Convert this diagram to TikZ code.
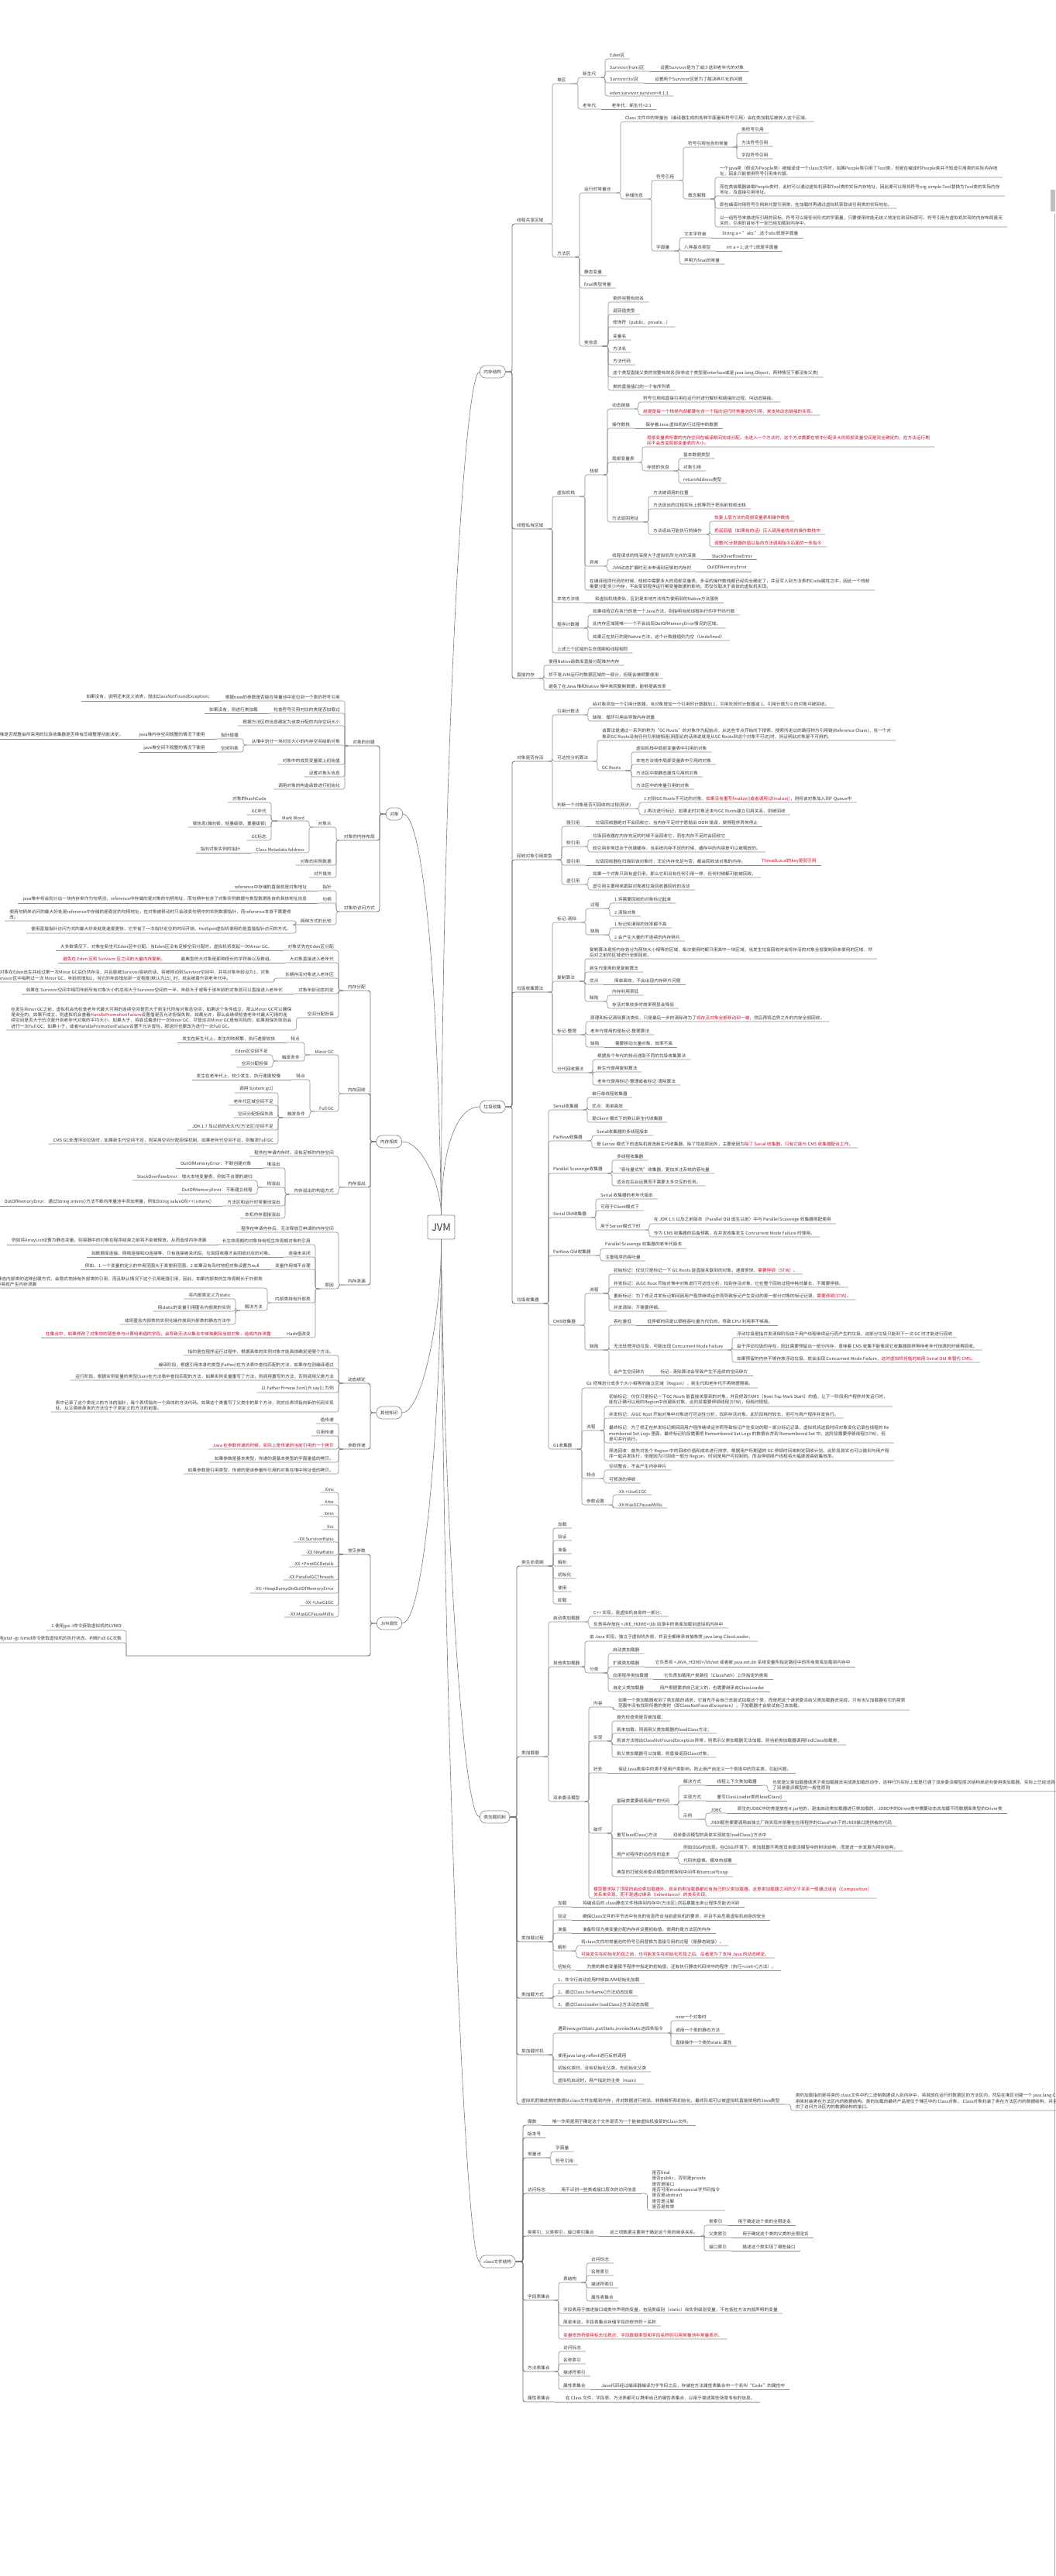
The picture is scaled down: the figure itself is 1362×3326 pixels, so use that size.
\documentclass[tikz,border=0pt]{standalone}
\usepackage{fontspec}
\setmainfont{Noto Sans CJK SC}
\definecolor{ln}{HTML}{8E8E8E}
\definecolor{tx}{HTML}{3A3A3A}
\definecolor{rd}{HTML}{C8102E}
\newcommand\RED[1]{\textcolor{rd}{#1}}
\tikzset{
 it/.style={inner xsep=6pt, inner ysep=1.6pt, font=\fontsize{5.7}{7.4}\selectfont, text=tx, align=left},
 cn/.style={draw=ln, line width=0.6pt, rounded corners=3pt},
 cn1/.style={draw=ln!80!black, line width=0.9pt, rounded corners=3pt},
 pill/.style={draw=ln, line width=0.7pt, rounded corners=7.5pt, minimum height=16pt, inner xsep=5pt, font=\fontsize{5.7}{7}\selectfont, text=tx, fill=white},
 cv/.style={draw=ln!85!black, line width=0.6pt}
}
% right side: name, parent, x, y, text
\newcommand\MR[5]{\node[it,anchor=south west] (#1) at (#3,#4) {#5};\draw[cn] (#2.south east) -| (#1.south west) -- (#1.south east);}
\newcommand\MRS[3]{\node[it,anchor=south west] (#1) at ([xshift=8pt]#2.south east) {#3};\draw[cn] (#2.south east) -- (#1.south east);}
\newcommand\MRSD[4]{\node[it,anchor=south west] (#1) at ([xshift=8pt,yshift=-#3pt]#2.south east) {#4};\draw[cn] (#2.south east) -| (#1.south west) -- (#1.south east);}
\newcommand\MRP[5]{\node[it,anchor=south west] (#1) at (#3,#4) {#5};\draw[cn1] (#2.east) -| (#1.south west) -- (#1.south east);}
% left side
\newcommand\ML[5]{\node[it,anchor=south east] (#1) at (#3,#4) {#5};\draw[cn] (#2.south west) -| (#1.south east) -- (#1.south west);}
\newcommand\MLS[3]{\node[it,anchor=south east] (#1) at ([xshift=-8pt]#2.south west) {#3};\draw[cn] (#2.south west) -- (#1.south west);}
\newcommand\MLSD[4]{\node[it,anchor=south east] (#1) at ([xshift=-8pt,yshift=-#3pt]#2.south west) {#4};\draw[cn] (#2.south west) -| (#1.south east) -- (#1.south west);}
\newcommand\MLP[5]{\node[it,anchor=south east] (#1) at (#3,#4) {#5};\draw[cn1] (#2.west) -| (#1.south east) -- (#1.south west);}
\begin{document}
\begin{tikzpicture}[x=1pt,y=-1pt]
\useasboundingbox (0,0) rectangle (1362,3326);
\fill[white] (0,0) rectangle (1362,3326);
\fill[gray!50] (1356,245) rectangle (1362,273);
\draw[gray!65, line width=0.8pt] (1361.6,276) -- (1361.6,3326);

% ---------- centre ----------
\node[draw=ln, line width=0.8pt, rounded corners=2pt, minimum width=35pt, minimum height=31pt, font=\fontsize{13}{13}\selectfont, text=tx, fill=white] (J) at (569.5,1584.5) {JVM};
\node[pill,anchor=west] (P1) at (619,480) {内存结构};
\node[pill,anchor=west] (P2) at (619,1429) {垃圾收集};
\node[pill,anchor=west] (P3) at (619,2346) {类加载机制};
\node[pill,anchor=west] (P4) at (619,2920) {class文件结构};
\node[pill,anchor=east] (Q1) at (520,1051) {对象};
\node[pill,anchor=east] (Q2) at (519,1474) {内存相关};
\node[pill,anchor=east] (Q3) at (519,1824) {其他知识};
\node[pill,anchor=east] (Q4) at (519,2096) {JVM调优};
\draw[cv] (J.north) .. controls (570,1000) and (598,480) .. (P1.west);
\draw[cv] (J.north) .. controls (570,1480) and (590,1429) .. (P2.west);
\draw[cv] (J.south) .. controls (572,1900) and (595,2346) .. (P3.west);
\draw[cv] (J.south) .. controls (572,2200) and (600,2920) .. (P4.west);
\draw[cv] (J.north) .. controls (565,1250) and (545,1051) .. (Q1.east);
\draw[cv] (J.north) .. controls (569,1530) and (545,1474) .. (Q2.east);
\draw[cv] (J.south) .. controls (570,1700) and (545,1824) .. (Q3.east);
\draw[cv] (J.south) .. controls (570,1800) and (550,2096) .. (Q4.east);

% ---------- 内存结构 ----------
\MRP{s1}{P1}{661}{289}{线程共享区域}
\MR{s11}{s1}{713}{108}{堆区}
\MR{s111}{s11}{746}{100}{新生代}
\MR{s1111}{s111}{781}{76}{Eden区}
\MR{s1112}{s111}{781}{92}{Survivor(from)区}
\MRS{s11121}{s1112}{设置Survivor是为了减少送到老年代的对象}
\MR{s1113}{s111}{781}{107}{Survivor(to)区}
\MRS{s11131}{s1113}{设置两个Survivor区是为了解决碎片化的问题}
\MR{s1114}{s111}{781}{124}{eden:survivor:survivor=8:1:1}
\MR{s112}{s11}{746}{141}{老年代}
\MRS{s1121}{s112}{老年代：新生代=2:1}
\MR{s12}{s1}{713}{332}{方法区}
\MR{s121}{s12}{748}{249}{运行时常量池}
\MR{s1211}{s121}{801}{157}{Class 文件中的常量池（编译器生成的各种字面量和符号引用）会在类加载后被放入这个区域。}
\MR{s1212}{s121}{801}{257}{存储信息}
\MR{sA}{s1212}{841}{233}{符号引用}
\MR{sA1}{sA}{882}{190}{符号引用包含的常量}
\MR{sA11}{sA1}{951}{172}{类符号引用}
\MR{sA12}{sA1}{951}{189}{方法符号引用}
\MR{sA13}{sA1}{951}{205}{字段符号引用}
\MR{sA2}{sA}{882}{257}{概念解释}
\MR{sA21}{sA2}{923}{229}{一个java类（假设为People类）被编译成一个class文件时，如果People类引用了Tool类，但是在编译时People类并不知道引用类的实际内存地\\址，因此只能使用符号引用来代替。}
\MR{sA22}{sA2}{923}{253}{而在类装载器装载People类时，此时可以通过虚拟机获取Tool类的实际内存地址，因此便可以既将符号org.simple.Tool替换为Tool类的实际内存\\地址，及直接引用地址。}
\MR{sA23}{sA2}{923}{269}{即在编译时用符号引用来代替引用类，在加载时再通过虚拟机获取该引用类的实际地址。}
\MR{sA24}{sA2}{923}{293}{以一组符号来描述所引用的目标，符号可以是任何形式的字面量，只要使用时能无歧义地定位到目标即可。符号引用与虚拟机实现的内存布局是无\\关的，引用的目标不一定已经加载到内存中。}
\MR{sB}{s1212}{841}{324}{字面量}
\MR{sB1}{sB}{877}{307}{文本字符串}
\MRS{sB11}{sB1}{String a = "abc",这个abc就是字面量}
\MR{sB2}{sB}{877}{324}{八种基本类型}
\MRS{sB21}{sB2}{int a = 1; 这个1就是字面量}
\MR{sB3}{sB}{877}{341}{声明为final的常量}
\MR{s122}{s12}{748}{356}{静态变量}
\MR{s123}{s12}{748}{372}{final类型常量}
\MR{s124}{s12}{748}{447}{类信息}
\MR{s1241}{s124}{785}{390}{类的完整有效名}
\MR{s1242}{s124}{785}{406}{返回值类型}
\MR{s1243}{s124}{785}{422}{修饰符（public，private...）}
\MR{s1244}{s124}{785}{439}{变量名}
\MR{s1245}{s124}{785}{455}{方法名}
\MR{s1246}{s124}{785}{471}{方法代码}
\MR{s1247}{s124}{785}{487}{这个类型直接父类的完整有效名(除非这个类型是interface或是 java.lang.Object，两种情况下都没有父类)}
\MR{s1248}{s124}{785}{504}{类的直接接口的一个有序列表}

\MRP{s2}{P1}{661}{683}{线程私有区域}
\MR{s21}{s2}{713}{641}{虚拟机栈}
\MR{s211}{s21}{755}{613}{栈帧}
\MR{s2111}{s211}{784}{528}{动态链接}
\MR{s21111}{s2111}{824}{519}{符号引用和直接引用在运行时进行解析和链接的过程，叫动态链接。}
\MR{s21112}{s2111}{824}{536}{\RED{前提是每一个栈帧内部都要包含一个指向运行时常量池的引用，来支持动态链接的实现。}}
\MR{s2112}{s211}{784}{553}{操作数栈}
\MRS{s21121}{s2112}{保存着Java 虚拟机执行过程中的数据}
\MR{s2113}{s211}{784}{597}{局部变量表}
\MR{s21131}{s2113}{829}{577}{\RED{局部变量表所需的内存空间在编译期间完成分配，当进入一个方法时，这个方法需要在帧中分配多大的局部变量空间是完全确定的，在方法运行期}\\\RED{间不会改变局部变量表的大小。}}
\MR{s21132}{s2113}{829}{608}{存放的信息}
\MR{s211321}{s21132}{876}{592}{基本数据类型}
\MR{s211322}{s21132}{876}{608}{对象引用}
\MR{s211323}{s21132}{876}{624}{returnAddress类型}
\MR{s2114}{s211}{784}{674}{方法返回地址}
\MR{s21141}{s2114}{837}{641}{方法被调用的位置}
\MR{s21142}{s2114}{837}{657}{方法退出的过程实际上就等同于把当前栈帧出栈}
\MR{s21143}{s2114}{837}{690}{方法退出可能执行的操作}
\MR{s211431}{s21143}{916}{673}{\RED{恢复上层方法的局部变量表和操作数栈}}
\MR{s211432}{s21143}{916}{690}{\RED{把返回值（如果有的话）压入调用者栈帧的操作数栈中}}
\MR{s211433}{s21143}{916}{706}{\RED{调整PC计数器的值以指向方法调用指令后面的一条指令}}
\MR{s212}{s21}{755}{731}{异常}
\MR{s2121}{s212}{784}{722}{线程请求的栈深度大于虚拟机所允许的深度}
\MRS{s21211}{s2121}{StackOverflowError}
\MR{s2122}{s212}{784}{738}{JVM动态扩展时无法申请到足够的内存时}
\MRS{s21221}{s2122}{OutOfMemoryError}
\MR{s213}{s21}{755}{762}{在编译程序代码的时候，栈帧中需要多大的局部变量表，多深的操作数栈都已经完全确定了，并且写入到方法表的Code属性之中，因此一个栈帧\\需要分配多少内存，不会受到程序运行期变量数据的影响，而仅仅取决于具体的虚拟机实现。}
\MR{s22}{s2}{713}{778}{本地方法栈}
\MRS{s221}{s22}{和虚拟机栈类似，区别是本地方法栈为使用到的Native方法服务}
\MR{s23}{s2}{713}{811}{程序计数器}
\MR{s231}{s23}{759}{794}{如果线程正在执行的是一个Java方法，则指明当前线程执行的字节码行数}
\MR{s232}{s23}{759}{811}{此内存区域是唯一一个不会出现OutOfMemoryError情况的区域。}
\MR{s233}{s23}{759}{827}{如果正在执行的是Natvie方法，这个计数器值则为空（Undefined）}
\MR{s24}{s2}{713}{843}{上述三个区域的生命周期和线程相同}
\MRP{s3}{P1}{661}{876}{直接内存}
\MR{s31}{s3}{702}{859}{使用Native函数库直接分配堆外内存}
\MR{s32}{s3}{702}{876}{并不是JVM运行时数据区域的一部分，但是会被频繁使用}
\MR{s33}{s3}{702}{891}{避免了在Java 堆和Native 堆中来回复制数据，能够提高效率}

% ---------- 垃圾收集 ----------
\MRP{g1}{P2}{661}{983}{对象是否存活}
\MR{g11}{g1}{713}{923}{引用计数法}
\MR{g111}{g11}{759}{914}{给对象添加一个引用计数器，当对象增加一个引用时计数器加 1，引用失效时计数器减 1。引用计数为 0 的对象可被回收。}
\MR{g112}{g11}{759}{931}{缺陷：循环引用会导致内存泄露}
\MR{g12}{g1}{713}{983}{可达性分析算法}
\MR{g121}{g12}{771}{956}{该算法是通过一系列的称为“GC Roots”的对象作为起始点，从这些节点开始向下搜索，搜索所走过的路径称为引用链(Reference Chain)，当一个对\\象到GC Roots没有任何引用链相连(用图论的话来说就是从GC Roots到这个对象不可达)时，则证明此对象是不可用的。}
\MR{g122}{g12}{771}{995}{GC Roots}
\MR{g1221}{g122}{815}{971}{虚拟机栈中局部变量表中引用的对象}
\MR{g1222}{g122}{815}{987}{本地方法栈中局部变量表中引用的对象}
\MR{g1223}{g122}{815}{1003}{方法区中类静态属性引用的对象}
\MR{g1224}{g122}{815}{1019}{方法区中的常量引用的对象}
\MR{g13}{g1}{713}{1044}{判断一个对象是否可回收的过程(两步)}
\MR{g131}{g13}{825}{1036}{1.对到GC Roots不可达的对象，\RED{如果没有重写finalize()或者调用过finalize()}，则将该对象加入到F-Queue中}
\MR{g132}{g13}{825}{1052}{2.再次进行标记，如果此时对象还未与GC Roots建立引用关系，则被回收}
\MRP{g2}{P2}{661}{1110}{回收对象引用类型}
\MR{g21}{g2}{725}{1067}{强引用}
\MRS{g211}{g21}{垃圾回收器绝对不会回收它，当内存不足时宁愿抛出 OOM 错误，使得程序异常停止}
\MR{g22}{g2}{725}{1093}{软引用}
\MR{g221}{g22}{759}{1084}{垃圾回收器在内存充足的时候不会回收它，而在内存不足时会回收它}
\MR{g222}{g22}{759}{1100}{软引用非常适合于创建缓存。当系统内存不足的时候，缓存中的内容是可以被释放的。}
\MR{g23}{g2}{725}{1117}{弱引用}
\MRS{g231}{g23}{垃圾回收器在扫描到该对象时，无论内存充足与否，都会回收该对象的内存。}
\MRS{g2311}{g231}{\RED{ThreadLocal的key是弱引用}}
\MR{g24}{g2}{725}{1142}{虚引用}
\MR{g241}{g24}{759}{1133}{如果一个对象只具有虚引用，那么它和没有任何引用一样，任何时候都可能被回收。}
\MR{g242}{g24}{759}{1149}{虚引用主要用来跟踪对象被垃圾回收器回收的活动}
\MRP{g3}{P2}{661}{1281}{垃圾收集算法}
\MR{g31}{g3}{713}{1191}{标记-清除}
\MR{g311}{g31}{756}{1173}{过程}
\MR{g3111}{g311}{787}{1166}{1.将需要回收的对象标记起来}
\MR{g3112}{g311}{787}{1183}{2.清除对象}
\MR{g312}{g31}{756}{1207}{缺陷}
\MR{g3121}{g312}{787}{1198}{1.标记和清除的效率都不高}
\MR{g3122}{g312}{787}{1215}{2.会产生大量的不连续的内存碎片}
\MR{g32}{g3}{713}{1267}{复制算法}
\MR{g321}{g32}{755}{1238}{复制算法是将内存划分为两块大小相等的区域，每次使用时都只用其中一块区域，当发生垃圾回收时会将存活的对象全部复制到未使用的区域，然\\后对之前的区域进行全部回收。}
\MR{g322}{g32}{755}{1255}{新生代使用的是复制算法}
\MR{g323}{g32}{755}{1271}{优点}
\MRS{g3231}{g323}{简单高效，不会出现内存碎片问题}
\MR{g324}{g32}{755}{1293}{缺陷}
\MR{g3241}{g324}{784}{1285}{内存利用率低}
\MR{g3242}{g324}{784}{1302}{存活对象较多时效率明显会降低}
\MR{g33}{g3}{713}{1336}{标记-整理}
\MR{g331}{g33}{756}{1319}{原理和标记清除算法类似，只是最后一步的清除改为了\RED{将存活对象全部移动到一端}，然后再将边界之外的内存全部回收。}
\MR{g332}{g33}{756}{1336}{老年代使用的是标记-整理算法}
\MR{g333}{g33}{756}{1352}{缺陷}
\MRS{g3331}{g333}{需要移动大量对象，效率不高}
\MR{g34}{g3}{713}{1385}{分代回收算法}
\MR{g341}{g34}{765}{1368}{根据各个年代的特点选取不同的垃圾收集算法}
\MR{g342}{g34}{765}{1384}{新生代使用复制算法}
\MR{g343}{g34}{765}{1401}{老年代使用标记-整理或者标记-清除算法}
\MRP{g4}{P2}{661}{1683}{垃圾收集器}
\MR{g41}{g4}{708}{1433}{Serial收集器}
\MR{g411}{g41}{758}{1417}{串行单线程收集器}
\MR{g412}{g41}{758}{1433}{优点：简单高效}
\MR{g413}{g41}{758}{1449}{是Client 模式下的默认新生代收集器}
\MR{g42}{g4}{708}{1473}{ParNew收集器}
\MR{g421}{g42}{764}{1466}{Serial收集器的多线程版本}
\MR{g422}{g42}{764}{1482}{是 Server 模式下的虚拟机首选新生代收集器，除了性能原因外，主要是因为\RED{除了 Serial 收集器，只有它能与 CMS 收集器配合工作。}}
\MR{g43}{g4}{708}{1515}{Parallel Scavenge收集器}
\MR{g431}{g43}{790}{1498}{多线程收集器}
\MR{g432}{g43}{790}{1515}{“吞吐量优先”收集器，更加关注系统的吞吐量}
\MR{g433}{g43}{790}{1531}{适合在后台运算而不需要太多交互的任务。}
\MR{g44}{g4}{708}{1572}{Serial Old收集器}
\MR{g441}{g44}{769}{1548}{Serial 收集器的老年代版本}
\MR{g442}{g44}{769}{1563}{可用于Client模式下}
\MR{g443}{g44}{769}{1588}{用于Server模式下时}
\MR{g4431}{g443}{838}{1580}{在 JDK 1.5 以及之前版本（Parallel Old 诞生以前）中与 Parallel Scavenge 收集器搭配使用}
\MR{g4432}{g443}{838}{1597}{作为 CMS 收集器的后备预案，在并发收集发生 Concurrent Mode Failure 时使用。}
\MR{g45}{g4}{708}{1621}{ParNew Old收集器}
\MR{g451}{g45}{775}{1612}{Parallel Scavenge 收集器的老年代版本}
\MR{g452}{g45}{775}{1628}{注重程序的吞吐量}
\MR{g46}{g4}{708}{1711}{CMS收集器}
\MR{g461}{g46}{755}{1670}{流程}
\MR{g4611}{g461}{786}{1645}{初始标记：仅仅只是标记一下 GC Roots 能直接关联到的对象，速度很快，\RED{需要停顿（STW）}。}
\MR{g4612}{g461}{786}{1662}{并发标记：从GC Root 开始对堆中对象进行可达性分析，找到存活对象，它在整个回收过程中耗时最长，不需要停顿。}
\MR{g4613}{g461}{786}{1678}{重新标记：为了修正并发标记期间因用户程序继续运作而导致标记产生变动的那一部分对象的标记记录，\RED{需要停顿(STW)}。}
\MR{g4614}{g461}{786}{1693}{并发清除：不需要停顿。}
\MR{g462}{g46}{755}{1743}{缺陷}
\MR{g4621}{g462}{786}{1711}{吞吐量低}
\MRS{g46211}{g4621}{低停顿时间是以牺牲吞吐量为代价的，导致 CPU 利用率不够高。}
\MR{g4622}{g462}{786}{1743}{无法处理浮动垃圾，可能出现 Concurrent Mode Failure}
\MR{g46221}{g4622}{945}{1727}{浮动垃圾是指并发清除阶段由于用户线程继续运行而产生的垃圾，这部分垃圾只能到下一次 GC 时才能进行回收}
\MR{g46222}{g4622}{945}{1743}{由于浮动垃圾的存在，因此需要预留出一部分内存，意味着 CMS 收集不能像其它收集器那样等待老年代快满的时候再回收。}
\MR{g46223}{g4622}{945}{1759}{如果预留的内存不够存放浮动垃圾，就会出现 Concurrent Mode Failure，\RED{这时虚拟机将临时启用 Serial Old 来替代 CMS。}}
\MR{g4623}{g462}{786}{1776}{会产生空间碎片}
\MRS{g46231}{g4623}{标记 - 清除算法会导致产生不连续的空间碎片}
\MR{g47}{g4}{708}{1871}{G1收集器}
\MR{g471}{g47}{751}{1792}{G1 把堆划分成多个大小相等的独立区域（Region），新生代和老年代不再物理隔离。}
\MR{g472}{g47}{751}{1847}{流程}
\MR{g4721}{g472}{780}{1816}{初始标记：仅仅只是标记一下GC Roots 能直接关联到的对象，并且修改TAMS（Next Top Mark Start）的值，让下一阶段用户程序并发运行时，\\能在正确可以用的Region中创建新对象，此阶段需要停顿线程(STW)，但耗时很短。}
\MR{g4722}{g472}{780}{1831}{并发标记：从GC Root 开始对堆中对象进行可达性分析，找到存活对象，此阶段耗时较长，但可与用户程序并发执行。}
\MR{g4723}{g472}{780}{1863}{最终标记：为了修正在并发标记期间因用户程序继续运作而导致标记产生变动的那一部分标记记录，虚拟机将这段时间对象变化记录在线程的 Re\\membered Set Logs 里面，最终标记阶段需要把 Remembered Set Logs 的数据合并到 Remembered Set 中。这阶段需要停顿线程(STW)，但\\是可并行执行。}
\MR{g4724}{g472}{780}{1886}{筛选回收：首先对各个 Region 中的回收价值和成本进行排序，根据用户所期望的 GC 停顿时间来制定回收计划。此阶段其实也可以做到与用户程\\序一起并发执行，但是因为只回收一部分 Region，时间是用户可控制的，而且停顿用户线程将大幅度提高收集效率。}
\MR{g473}{g47}{751}{1909}{特点}
\MR{g4731}{g473}{780}{1898}{空间整合，不会产生内存碎片}
\MR{g4732}{g473}{780}{1915}{可预测的停顿}
\MR{g474}{g47}{751}{1943}{参数设置}
\MR{g4741}{g474}{791}{1930}{-XX:+UseG1GC}
\MR{g4742}{g474}{791}{1947}{-XX:MaxGCPauseMillis}

% ---------- 类加载机制 ----------
\MRP{c1}{P3}{667}{2022}{类生命周期}
\MR{c11}{c1}{714}{1973}{加载}
\MR{c12}{c1}{714}{1989}{验证}
\MR{c13}{c1}{714}{2006}{准备}
\MR{c14}{c1}{714}{2022}{解析}
\MR{c15}{c1}{714}{2038}{初始化}
\MR{c16}{c1}{714}{2055}{使用}
\MR{c17}{c1}{714}{2071}{卸载}
\MRP{c2}{P3}{667}{2268}{类加载器}
\MR{c21}{c2}{708}{2094}{启动类加载器}
\MR{c211}{c21}{760}{2087}{C++ 实现，是虚拟机自身的一部分；}
\MR{c212}{c21}{760}{2102}{负责将存放在 <JRE\_HOME>\textbackslash lib 目录中的类库加载到虚拟机内存中}
\MR{c22}{c2}{708}{2152}{其他类加载器}
\MR{c221}{c22}{755}{2119}{由 Java 实现，独立于虚拟机外部，并且全都继承自抽象类 java.lang.ClassLoader。}
\MR{c222}{c22}{755}{2160}{分类}
\MR{c2221}{c222}{785}{2135}{启动类加载器}
\MR{c2222}{c222}{785}{2152}{扩展类加载器}
\MRS{c22221}{c2222}{它负责将 <JAVA\_HOME>/lib/ext 或者被 java.ext.dir 系统变量所指定路径中的所有类库加载到内存中}
\MR{c2223}{c222}{785}{2168}{应用程序类加载器}
\MRS{c22231}{c2223}{它负责加载用户类路径（ClassPath）上所指定的类库}
\MR{c2224}{c222}{785}{2184}{自定义类加载器}
\MRS{c22241}{c2224}{用户根据需求自己定义的，也需要继承自ClassLoader.}
\MR{c23}{c2}{708}{2326}{双亲委派模型}
\MR{c231}{c23}{760}{2204}{内容}
\MRSD{c2311}{c231}{4}{如果一个类加载器收到了类加载的请求，它首先不会自己去尝试加载这个类，而是把这个请求委派给父类加载器去完成，只有当父加载器在它的搜索\\范围中没有找到所需的类时（即ClassNotFoundException），子加载器才会尝试自己去加载。}
\MR{c232}{c23}{760}{2248}{实现}
\MR{c2321}{c232}{790}{2222}{首先检查类是否被加载；}
\MR{c2322}{c232}{790}{2238}{若未加载，则调用父类加载器的loadClass方法；}
\MR{c2323}{c232}{790}{2253}{若该方法抛出ClassNotFoundException异常，则表示父类加载器无法加载，则当前类加载器调用findClass加载类；}
\MR{c2324}{c232}{790}{2269}{若父类加载器可以加载，则直接返回Class对象；}
\MR{c233}{c23}{760}{2289}{好处}
\MRS{c2331}{c233}{保证Java类库中的类不受用户类影响，防止用户自定义一个类库中的同名类，引起问题。}
\MR{c234}{c23}{760}{2367}{破坏}
\MR{c2341}{c234}{790}{2330}{基础类需要调用用户的代码}
\MR{cA1}{c2341}{876}{2305}{解决方式}
\MRS{cA11}{cA1}{线程上下文类加载器}
\MRSD{cA111}{cA11}{8}{也就是父类加载器请求子类加载器去完成类加载的动作，这种行为实际上就是打通了双亲委派模型层次结构来逆向使用类加载器，实际上已经违背\\了双亲委派模型的一般性原则}
\MR{cA2}{c2341}{876}{2325}{实现方式}
\MRS{cA21}{cA2}{重写ClassLoader类的loadClass()}
\MR{cA3}{c2341}{876}{2349}{示例}
\MR{cA31}{cA3}{911}{2341}{JDBC}
\MRS{cA311}{cA31}{原生的JDBC中的类是放在rt.jar包的，是由启动类加载器进行类加载的，JDBC中的Driver类中需要动态去加载不同数据库类型的Driver类}
\MR{cA32}{cA3}{911}{2358}{JNDI服务需要调用由独立厂商实现并部署在应用程序的ClassPath下的JNDI接口提供者的代码}
\MR{c2342}{c234}{790}{2374}{重写loadClass()方法}
\MRS{c23421}{c2342}{双亲委派模型的具体实现就在loadClass()方法中}
\MR{c2343}{c234}{790}{2399}{用户对程序的动态性的追求}
\MR{cB1}{c2343}{876}{2390}{例如OSGi的出现。在OSGi环境下，类加载器不再是双亲委派模型中的树状结构，而是进一步发展为网状结构。}
\MR{cB2}{c2343}{876}{2407}{代码热替换、模块热部署}
\MR{c2344}{c234}{790}{2423}{典型的打破双亲委派模型的框架和中间件有tomcat与osgi}
\MR{c235}{c23}{760}{2451}{\RED{模型要求除了顶层的启动类加载器外，其余的类加载器都应有自己的父类加载器。这里类加载器之间的父子关系一般通过组合（Composition）}\\\RED{关系来实现，而不是通过继承（Inheritance）的关系实现。}}
\MRP{c3}{P3}{667}{2507}{类加载过程}
\MR{c31}{c3}{714}{2462}{加载}
\MRS{c311}{c31}{将编译后的.class静态文件转换到内存中(方法区),然后暴露出来让程序员能访问到}
\MR{c32}{c3}{714}{2479}{验证}
\MRS{c321}{c32}{确保Class文件的字节流中包含的信息符合当前虚拟机的要求，并且不会危害虚拟机自身的安全}
\MR{c33}{c3}{714}{2496}{准备}
\MRS{c331}{c33}{准备阶段为类变量分配内存并设置初始值，使用的是方法区的内存}
\MR{c34}{c3}{714}{2519}{解析}
\MR{c341}{c34}{744}{2512}{将class文件的常量池的符号引用替换为直接引用的过程（是静态链接）。}
\MR{c342}{c34}{744}{2528}{\RED{可能发生在初始化阶段之前，也可能发生在初始化阶段之后，后者是为了支持 Java 的动态绑定。}}
\MR{c35}{c3}{714}{2544}{初始化}
\MRS{c351}{c35}{为类的静态变量赋予程序中指定的初始值，还有执行静态代码块中的程序（执行<cinit>()方法）。}
\MRP{c4}{P3}{667}{2580}{类加载方式}
\MR{c41}{c4}{714}{2561}{1、命令行启动应用时候由JVM初始化加载}
\MR{c42}{c4}{714}{2577}{2、通过Class.forName()方法动态加载}
\MR{c43}{c4}{714}{2593}{3、通过ClassLoader.loadClass()方法动态加载}
\MRP{c5}{P3}{667}{2653}{类加载时机}
\MR{c51}{c5}{714}{2625}{遇到new,getStatic,putStatic,invokeStatic这四条指令}
\MR{c511}{c51}{866}{2609}{new一个对象时}
\MR{c512}{c51}{866}{2626}{调用一个类的静态方法}
\MR{c513}{c51}{866}{2642}{直接操作一个类的static 属性}
\MR{c52}{c5}{714}{2660}{使用java.lang.reflect进行反射调用}
\MR{c53}{c5}{714}{2675}{初始化类时，没有初始化父类，先初始化父类}
\MR{c54}{c5}{714}{2691}{虚拟机启动时，用户指定的主类（main）}
\MRP{c6}{P3}{667}{2717}{虚拟机把描述类的数据从class文件加载到内存，并对数据进行校验、转换解析和初始化，最终形成可以被虚拟机直接使用的Java类型}
\MRSD{c61}{c6}{8}{类的加载指的是将类的.class文件中的二进制数据读入到内存中，将其放在运行时数据区的方法区内，然后在堆区创建一个 java.lang.Class对象，\\用来封装类在方法区内的数据结构。类的加载的最终产品是位于堆区中的 Class对象， Class对象封装了类在方法区内的数据结构，并且向Java程序员提\\供了访问方法区内的数据结构的接口。}

% ---------- class文件结构 ----------
\MRP{f1}{P4}{675}{2744}{魔数}
\MRS{f11}{f1}{唯一作用是用于确定这个文件是否为一个能被虚拟机接受的Class文件。}
\MRP{f2}{P4}{675}{2760}{版本号}
\MRP{f3}{P4}{675}{2786}{常量池}
\MR{f31}{f3}{711}{2778}{字面量}
\MR{f32}{f3}{711}{2795}{符号引用}
\MRP{f4}{P4}{675}{2832}{访问标志}
\MRS{f41}{f4}{用于识别一些类或接口层次的访问信息}
\MRSD{f411}{f41}{22}{是否final\\是否public，否则是private\\是否是接口\\是否可用invokespecial字节码指令\\是否是abstract\\是否是注解\\是否是枚举}
\MRP{f5}{P4}{675}{2887}{类索引，父类索引，接口索引集合}
\MRS{f51}{f5}{这三项数据主要用于确定这个类的继承关系。}
\MR{f511}{f51}{909}{2873}{类索引}
\MRS{f5111}{f511}{用于确定这个类的全限定名}
\MR{f512}{f51}{909}{2889}{父类索引}
\MRS{f5121}{f512}{用于确定这个类的父类的全限定名}
\MR{f513}{f51}{909}{2906}{接口索引}
\MRS{f5131}{f513}{描述这个类实现了哪些接口}
\MRP{f6}{P4}{675}{2970}{字段表集合}
\MR{f61}{f6}{721}{2947}{表结构}
\MR{f611}{f61}{757}{2922}{访问标志}
\MR{f612}{f61}{757}{2938}{名称索引}
\MR{f613}{f61}{757}{2954}{描述符索引}
\MR{f614}{f61}{757}{2971}{属性表集合}
\MR{f62}{f6}{721}{2987}{字段表用于描述接口或类中声明的变量，包括类级别（static）和实例级别变量，不包括在方法内部声明的变量}
\MR{f63}{f6}{721}{3003}{简单来说，字段表集合存储字段的修饰符 + 名称}
\MR{f64}{f6}{721}{3020}{\RED{变量修饰符使用标志位表示，字段数据类型和字段名称则引用常量池中常量表示。}}
\MRP{f7}{P4}{675}{3062}{方法表集合}
\MR{f71}{f7}{721}{3036}{访问标志}
\MR{f72}{f7}{721}{3052}{名称索引}
\MR{f73}{f7}{721}{3068}{描述符索引}
\MR{f74}{f7}{721}{3085}{属性表集合}
\MRS{f741}{f74}{Java代码经过编译器编译为字节码之后，存储在方法属性表集合中一个名叫“Code”的属性中}
\MRP{f8}{P4}{675}{3101}{属性表集合}
\MRS{f81}{f8}{在 Class 文件、字段表、方法表都可以携带自己的属性表集合，以用于描述某些场景专有的信息。}

% ---------- 对象 ----------
\MLP{o1}{Q1}{490}{963}{对象的创建}
\ML{o11}{o1}{445}{905}{根据new的参数是否能在常量池中定位到一个类的符号引用}
\MLS{o111}{o11}{如果没有，说明还未定义该类，抛出ClassNotFoundException;}
\ML{o12}{o1}{445}{921}{检查符号引用对应的类是否加载过}
\MLS{o121}{o12}{如果没有，则进行类加载}
\ML{o13}{o1}{445}{937}{根据方法区的信息确定为该类分配的内存空间大小}
\ML{o14}{o1}{445}{962}{从堆中划分一块对应大小的内存空间给新对象}
\ML{o141}{o14}{314}{954}{指针碰撞}
\MLS{o1411}{o141}{java堆内存空间规整的情况下使用}
\MLS{o14111}{o1411}{java堆是否规整由所采用的垃圾收集器是否带有压缩整理功能决定。}
\ML{o142}{o14}{314}{971}{空闲列表}
\MLS{o1421}{o142}{java堆空间不规整的情况下使用}
\ML{o15}{o1}{445}{987}{对象中的成员变量赋上初始值}
\ML{o16}{o1}{445}{1003}{设置对象头信息}
\ML{o17}{o1}{445}{1019}{调用对象的构造函数进行初始化}
\MLP{o2}{Q1}{490}{1085}{对象的内存布局}
\ML{o21}{o2}{434}{1068}{对象头}
\ML{o211}{o21}{399}{1060}{Mark Word}
\ML{o2111}{o211}{350}{1036}{对象的hashCode}
\ML{o2112}{o211}{350}{1052}{GC年代}
\ML{o2113}{o211}{350}{1068}{锁信息(偏向锁，轻量级锁，重量级锁)}
\ML{o2114}{o211}{350}{1085}{GC标志}
\ML{o212}{o21}{399}{1101}{Class Metadata Address}
\MLS{o2121}{o212}{指向对象实例的指针}
\ML{o22}{o2}{434}{1117}{对象的实例数据}
\ML{o23}{o2}{434}{1133}{对齐填充}
\MLP{o3}{Q1}{490}{1177}{对象的访问方式}
\ML{o31}{o3}{434}{1150}{指针}
\MLS{o311}{o31}{reference中存储的直接就是对象地址}
\ML{o32}{o3}{434}{1166}{句柄}
\MLS{o321}{o32}{java堆中将会划分出一块内存来作为句柄池，reference中存储的是对象的句柄地址，而句柄中包含了对象实例数据与类型数据各自的具体地址信息}
\ML{o33}{o3}{434}{1194}{两种方式的比较}
\ML{o331}{o33}{382}{1189}{使用句柄来访问的最大好处是reference中存储的是稳定的句柄地址，在对象被移动时只会改变句柄中的实例数据指针，而reference本身不需要修\\改。}
\ML{o332}{o33}{382}{1205}{使用直接指针访问方式的最大好处就是速度更快，它节省了一次指针定位的时间开销，HotSpot虚拟机使用的是直接指针访问的方式。}

% ---------- 内存相关 ----------
\MLP{m1}{Q2}{478}{1279}{内存分配}
\ML{m11}{m1}{437}{1227}{对象优先在Eden区分配}
\MLS{m111}{m11}{大多数情况下，对象在新生代Eden区中分配。当Eden区没有足够空间分配时，虚拟机将发起一次Minor GC。}
\ML{m12}{m1}{437}{1243}{大对象直接进入老年代}
\MLS{m121}{m12}{最典型的大对象是那种很长的字符串以及数组。}
\MLS{m1211}{m121}{\RED{避免在 Eden 区和 Survivor 区之间的大量内存复制。}}
\ML{m13}{m1}{437}{1263}{长期存活对象进入老年区}
\MLSD{m131}{m13}{5}{如果对象在Eden出生并经过第一次Minor GC后仍然存活，并且能被Survivor容纳的话，将被移动到Survivor空间中，并将对象年龄设为1，对象\\在Survivor区中每熬过一次 Minor GC，年龄就增加1，当它的年龄增加到一定程度(默认为15)\_时，就会被晋升到老年代中。}
\ML{m14}{m1}{437}{1283}{对象年龄动态判定}
\MLS{m141}{m14}{如果在 Survivor空间中相同年龄所有对象大小的总和大于Survivor空间的一半，年龄大于或等于该年龄的对象就可以直接进入老年代}
\ML{m15}{m1}{437}{1314}{空间分配担保}
\MLSD{m151}{m15}{16}{在发生Minor GC之前，虚拟机会先检查老年代最大可用的连续空间是否大于新生代所有对象总空间，如果这个条件成立，那么Minor GC可以确保\\是安全的。如果不成立，则虚拟机会查看\RED{HandlePromotionFailure}设置值是否允许担保失败。如果允许，那么会继续检查老年代最大可用的连\\续空间是否大于历次晋升到老年代对象的平均大小，如果大于，将尝试着进行一次Minor GC，尽管这次Minor GC是有风险的；如果担保失败则会\\进行一次Full GC；如果小于，或者HandlePromotionFailure设置不允许冒险，那这时也要改为进行一次Full GC。}
\MLP{m2}{Q2}{478}{1412}{内存回收}
\ML{m21}{m2}{437}{1362}{Minor GC}
\ML{m211}{m21}{393}{1346}{特点}
\MLS{m2111}{m211}{发生在新生代上，发生的较频繁，执行速度较快}
\ML{m212}{m21}{393}{1370}{触发条件}
\ML{m2121}{m212}{352}{1362}{Eden区空间不足}
\ML{m2122}{m212}{352}{1378}{空间分配担保}
\ML{m22}{m2}{437}{1435}{Full GC}
\ML{m221}{m22}{400}{1394}{特点}
\MLS{m2211}{m221}{发生在老年代上，较少发生，执行速度较慢}
\ML{m222}{m22}{400}{1443}{触发条件}
\ML{m2221}{m222}{359}{1411}{调用 System.gc()}
\ML{m2222}{m222}{359}{1427}{老年代区域空间不足}
\ML{m2223}{m222}{359}{1443}{空间分配担保失败}
\ML{m2224}{m222}{359}{1459}{JDK 1.7 及以前的永久代(方法区)空间不足}
\ML{m2225}{m222}{359}{1477}{CMS GC处理浮动垃圾时，如果新生代空间不足，则采用空间分配担保机制，如果老年代空间不足，则触发Full GC}
\MLP{m3}{Q2}{478}{1533}{内存溢出}
\ML{m31}{m3}{437}{1493}{程序在申请内存时，没有足够的内存空间}
\ML{m32}{m3}{437}{1542}{内存溢出的构造方式}
\ML{m321}{m32}{368}{1508}{堆溢出}
\MLS{m3211}{m321}{OutOfMemoryError：不断创建对象}
\ML{m322}{m32}{368}{1533}{栈溢出}
\ML{m3221}{m322}{332}{1524}{StackOverflowError：增大本地变量表，例如不合理的递归}
\ML{m3222}{m322}{332}{1542}{OutOfMemoryError：不断建立线程}
\ML{m323}{m32}{368}{1557}{方法区和运行时常量池溢出}
\MLS{m3231}{m323}{OutOfMemoryError：通过String.intern()方法不断向常量池中添加常量，例如String.valueOf(i++).intern()}
\ML{m324}{m32}{368}{1573}{本机内存直接溢出}
\MLP{m4}{Q2}{478}{1659}{内存泄漏}
\ML{m41}{m4}{437}{1591}{程序在申请内存后，无法释放已申请的内存空间}
\ML{m42}{m4}{437}{1664}{原因}
\ML{m421}{m42}{407}{1607}{长生命周期的对象持有短生命周期对象的引用}
\MLS{m4211}{m421}{例如将ArrayList设置为静态变量，则容器中的对象在程序结束之前将不能被释放，从而造成内存泄漏}
\ML{m422}{m42}{407}{1623}{连接未关闭}
\MLS{m4221}{m422}{如数据库连接、网络连接和IO连接等，只有连接被关闭后，垃圾回收器才会回收对应的对象。}
\ML{m423}{m42}{407}{1639}{变量作用域不合理}
\MLS{m4231}{m423}{例如，1.一个变量的定义的作用范围大于其使用范围，2.如果没有及时地把对象设置为null}
\ML{m424}{m42}{407}{1682}{内部类持有外部类}
\ML{m4241}{m424}{345}{1663}{Java的非静态内部类的这种创建方式，会隐式地持有外部类的引用，而且默认情况下这个引用是强引用，因此，如果内部类的生命周期长于外部类\\，程序很容易就产生内存泄漏}
\ML{m4242}{m424}{345}{1692}{解决方法}
\ML{m42421}{m4242}{304}{1677}{将内部类定义为static}
\ML{m42422}{m4242}{304}{1693}{用static的变量引用匿名内部类的实例}
\ML{m42423}{m4242}{304}{1710}{或将匿名内部类的实例化操作放到外部类的静态方法中}
\ML{m425}{m42}{407}{1727}{Hash值改变}
\MLS{m4251}{m425}{\RED{在集合中，如果修改了对象中的那些参与计算哈希值的字段，会导致无法从集合中单独删除当前对象，造成内存泄露}}

% ---------- 其他知识 ----------
\MLP{k1}{Q3}{478}{1786}{动态绑定}
\ML{k11}{k1}{437}{1750}{指的是在程序运行过程中，根据具体的实例对象才能具体确定是哪个方法。}
\ML{k12}{k1}{437}{1767}{编译阶段，根据引用本身的类型(Father)在方法表中查找匹配的方法，如果存在则编译通过}
\ML{k13}{k1}{437}{1782}{运行阶段，根据实例变量的类型(Son)在方法表中查找匹配的方法，如果实例变量重写了方法，则调用重写的方法，否则调用父类方法}
\ML{k14}{k1}{437}{1798}{以 Father ft=new Son();ft.say(); 为例}
\ML{k15}{k1}{437}{1823}{表中记录了这个类定义的方法的指针，每个表项指向一个具体的方法代码。如果这个类重写了父类中的某个方法，则对应表项指向新的代码实现\\处。从父类继承来的方法位于子类定义的方法的前面。}
\MLP{k2}{Q3}{478}{1871}{参数传递}
\ML{k21}{k2}{437}{1838}{值传递}
\ML{k22}{k2}{437}{1854}{引用传递}
\ML{k23}{k2}{437}{1871}{\RED{Java 在参数传递的时候，实际上是传递的当前引用的一个拷贝}}
\ML{k24}{k2}{437}{1888}{如果参数是基本类型，传递的是基本类型的字面量值的拷贝。}
\ML{k25}{k2}{437}{1903}{如果参数是引用类型，传递的是该参量所引用的对象在堆中地址值的拷贝。}

% ---------- JVM调优 ----------
\MLP{t1}{Q4}{478}{2007}{常见参数}
\ML{t11}{t1}{437}{1927}{Xms}
\ML{t12}{t1}{437}{1943}{Xmx}
\ML{t13}{t1}{437}{1958}{Xmn}
\ML{t14}{t1}{437}{1975}{Xss}
\ML{t15}{t1}{437}{1991}{-XX:SurvivorRatio}
\ML{t16}{t1}{437}{2008}{-XX:NewRatio}
\ML{t17}{t1}{437}{2023}{-XX:+PrintGCDetails}
\ML{t18}{t1}{437}{2040}{-XX:ParallelGCThreads}
\ML{t19}{t1}{437}{2057}{-XX:+HeapDumpOnOutOfMemoryError}
\ML{t110}{t1}{437}{2073}{-XX:+UseG1GC}
\ML{t111}{t1}{437}{2088}{-XX:MaxGCPauseMillis}
\coordinate (t2) at (163,2138);
\draw[cn1] (Q4.west) -| (478,2138) -- (t2);
\node[it,anchor=south east] (t21) at (163,2105) {1.使用jps -l命令获取虚拟机的LVMID};
\node[it,anchor=south east] (t22) at (163,2121) {2.使用jstat -gc lvmid命令获取虚拟机的执行状态，判断Full GC次数};
\draw[cn] (t2) -| (t21.south east) -- (t21.south west);
\draw[cn] (t2) -| (t22.south east) -- (t22.south west);
\end{tikzpicture}
\end{document}
